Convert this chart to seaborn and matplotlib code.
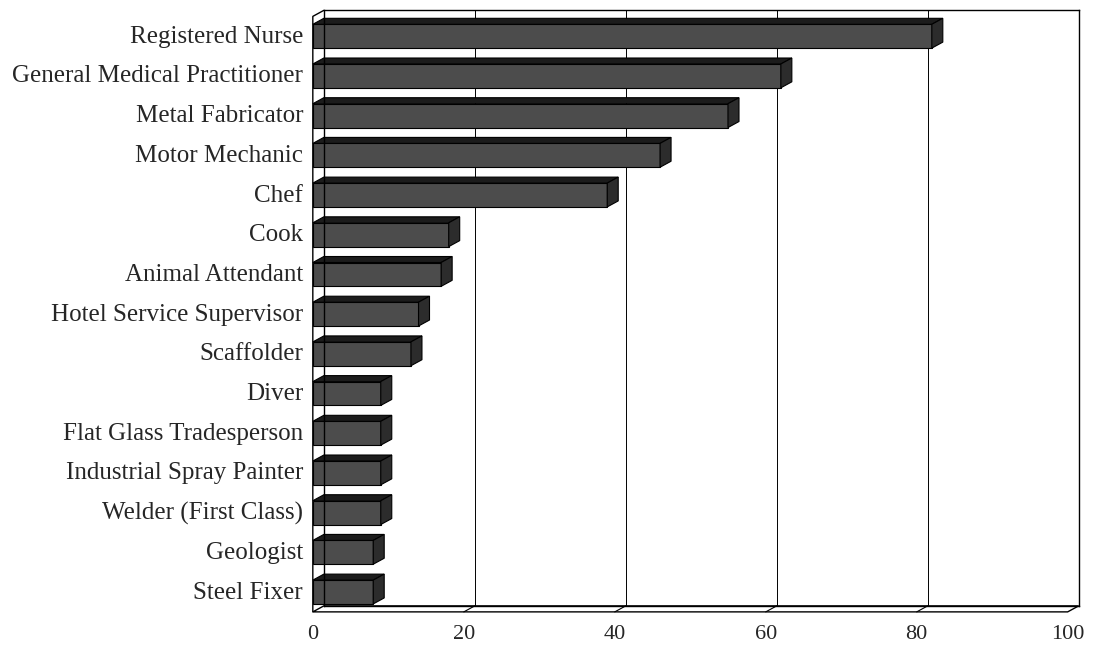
import seaborn as sns
import matplotlib.pyplot as plt
import matplotlib.transforms as mtransforms
from matplotlib.patches import Polygon
from matplotlib.lines import Line2D
import pandas as pd

# occupations and counts
occupations = [
    "Registered Nurse", "General Medical Practitioner", "Metal Fabricator",
    "Motor Mechanic", "Chef", "Cook", "Animal Attendant",
    "Hotel Service Supervisor", "Scaffolder", "Diver",
    "Flat Glass Tradesperson", "Industrial Spray Painter",
    "Welder (First Class)", "Geologist", "Steel Fixer",
]
counts = [82, 62, 55, 46, 39, 18, 17, 14, 13, 9, 9, 9, 9, 8, 8]
x_ticks = [0, 20, 40, 60, 80, 100]

data = pd.DataFrame({"Occupation": occupations, "Count": counts})

sns.set_style("white")
plt.rcParams["font.family"] = ["Liberation Serif", "DejaVu Serif"]

fig = plt.figure(figsize=(10.94, 6.48), dpi=100)
ax = fig.add_axes([0.296, 0.065, 0.690, 0.919])

front_col, top_col, side_col = "#4c4c4c", "#1c1c1c", "#2c2c2c"

sns.barplot(data=data, x="Count", y="Occupation", orient="h",
            color=front_col, edgecolor="black", linewidth=0.8,
            width=0.6, saturation=1, ax=ax)

ax.set_xlim(0, 100)
ax.set_ylim(len(occupations) - 0.5, -0.5)

# fake 3D depth: front plane is shifted left/down from the back wall
px_x = 100 / (0.690 * 1094)          # data units per pixel (x)
px_y = 15 / (0.919 * 648)            # rows per pixel (y)
dx, dy = 11 * px_x, 6 * px_y

for p in list(ax.patches):
    x0, y0, w, h = p.get_x(), p.get_y(), p.get_width(), p.get_height()
    # move front face onto the front plane
    fx, fy = x0 - dx, y0 + dy
    p.set_x(fx)
    p.set_y(fy)
    p.set_clip_on(False)
    top = Polygon([(fx, fy), (fx + dx, fy - dy), (fx + w + dx, fy - dy), (fx + w, fy)],
                  closed=True, facecolor=top_col, edgecolor="black", linewidth=0.8,
                  clip_on=False, zorder=p.get_zorder())
    side = Polygon([(fx + w, fy), (fx + w + dx, fy - dy), (fx + w + dx, fy + h - dy), (fx + w, fy + h)],
                   closed=True, facecolor=side_col, edgecolor="black", linewidth=0.8,
                   clip_on=False, zorder=p.get_zorder())
    ax.add_patch(top)
    ax.add_patch(side)

# back-wall gridlines and frame
ax.xaxis.grid(True, color="black", linewidth=0.7)
ax.set_axisbelow(True)
for s in ax.spines.values():
    s.set_color("black")
    s.set_linewidth(1.0)

# side wall and floor (in x data, y axes coordinates)
trans = mtransforms.blended_transform_factory(ax.transData, ax.transAxes)
dy_ax = 6 / (0.919 * 648)
floor = Polygon([(0, 0), (100, 0), (100 - dx, -dy_ax), (-dx, -dy_ax)], closed=True,
                facecolor="white", edgecolor="black", linewidth=1.0,
                transform=trans, clip_on=False, zorder=0.5)
ax.add_patch(floor)
for t in x_ticks[1:-1]:
    ax.add_line(Line2D([t, t - dx], [0, -dy_ax], color="black", linewidth=0.8,
                       transform=trans, clip_on=False))
ax.add_line(Line2D([-dx, -dx, 0], [-dy_ax, 1 - dy_ax, 1], color="black", linewidth=1.0,
                   transform=trans, clip_on=False))

ax.set_xticks(x_ticks)
ax.set_xticklabels([str(t) for t in x_ticks], fontsize=16)
ax.tick_params(axis="y", labelsize=18, length=0, pad=7)
ax.tick_params(axis="x", length=0, pad=14)
ax.set_xlabel("")
ax.set_ylabel("")

# tick labels sit on the front plane
shift_y = mtransforms.ScaledTranslation(-11 / 100, -4 / 100, fig.dpi_scale_trans)
shift_x = mtransforms.ScaledTranslation(-11 / 100, 0, fig.dpi_scale_trans)
for lab in ax.get_yticklabels():
    lab.set_transform(lab.get_transform() + shift_y)
for lab in ax.get_xticklabels():
    lab.set_transform(lab.get_transform() + shift_x)

fig.savefig("out.png", dpi=100)
plt.close(fig)
